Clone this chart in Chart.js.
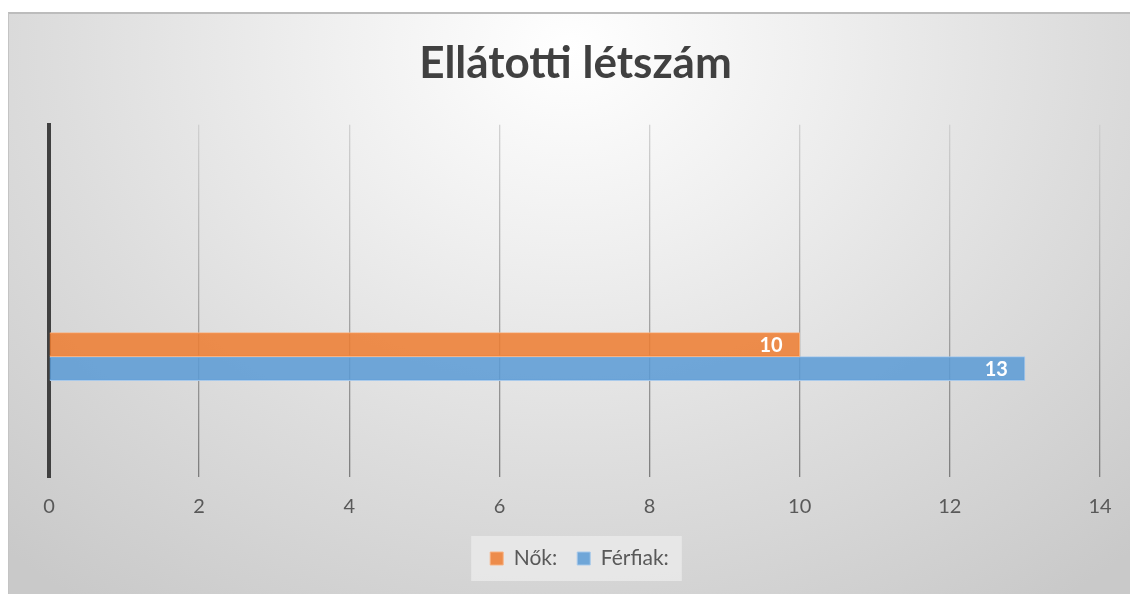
<!DOCTYPE html>
<html lang="hu">
<head>
<meta charset="utf-8">
<title>Ellátotti létszám</title>
<script src="https://cdn.jsdelivr.net/npm/chart.js@4.4.1/dist/chart.umd.min.js"></script>
<style>
  html, body { margin: 0; padding: 0; background: #ffffff; }
  body { width: 1130px; height: 594px; position: relative; overflow: hidden; }
  #frame {
    position: absolute; left: 8px; top: 12px; right: 0; bottom: 0;
    border-top: 2px solid #bcbcbc; border-left: 1px solid #c4c4c4;
    background: radial-gradient(ellipse 74% 118% at 50% 6%, #ffffff 0%, #efefef 30%, #dddddd 62%, #c9c9c9 100%);
  }
  #wrap { position: absolute; left: 0; top: 0; width: 1130px; height: 594px; }
</style>
</head>
<body>
<div id="frame"></div>
<div id="wrap"><canvas id="chart" width="1130" height="594"></canvas></div>
<script>
// Chart content
const chartTitle = 'Ellátotti létszám';
const categories = ['Létszám'];
const seriesNames = ['Nők:', 'Férfiak:'];
const nok = [10];
const ferfiak = [13];
const xTickMin = 0;
const xTickMax = 14;
const xTickStep = 2;

const FONT = 'Lato, "Open Sans", sans-serif';
const TEXT_GREY = '#595959';

// Excel-style gridlines: faint at the top, darker toward the axis labels
function gridGradient(ctx) {
  const area = ctx.chart.chartArea;
  if (!area) return '#bfbfbf';
  const g = ctx.chart.ctx.createLinearGradient(0, area.top, 0, area.bottom);
  g.addColorStop(0, 'rgba(205,205,205,0.9)');
  g.addColorStop(1, 'rgba(125,125,125,1)');
  return g;
}

// Nudge the title and legend so they sit centred on the whole frame
const centreBoxes = {
  id: 'centreBoxes',
  afterLayout(chart) {
    const t = chart.titleBlock;
    if (t) { t.left += 5; t.right += 5; }
    const lg = chart.legend;
    if (lg) { lg.left += 9; lg.right += 9; }
  }
};

// Light panel behind the legend entries
const legendPanel = {
  id: 'legendPanel',
  beforeDraw(chart) {
    const lg = chart.legend;
    if (!lg || !lg.legendHitBoxes || !lg.legendHitBoxes.length) return;
    const boxes = lg.legendHitBoxes;
    const left = Math.min(...boxes.map(b => b.left)) - 19;
    const right = Math.max(...boxes.map(b => b.left + b.width)) + 13;
    const top = Math.min(...boxes.map(b => b.top)) - 12;
    const bottom = Math.max(...boxes.map(b => b.top + b.height)) + 12;
    const c = chart.ctx;
    c.save();
    c.fillStyle = 'rgba(236,236,236,0.75)';
    c.fillRect(left, top, right - left, bottom - top);
    c.restore();
  }
};

// Value labels inside the bar ends
const barValues = {
  id: 'barValues',
  afterDatasetsDraw(chart) {
    const c = chart.ctx;
    c.save();
    c.font = 'bold 20px ' + FONT;
    c.fillStyle = '#ffffff';
    c.textAlign = 'right';
    c.textBaseline = 'middle';
    chart.data.datasets.forEach((ds, di) => {
      const meta = chart.getDatasetMeta(di);
      meta.data.forEach((bar, i) => {
        const v = ds.data[i].x;
        c.fillText(String(v), bar.x - 17, bar.y + 1);
      });
    });
    c.restore();
  }
};

const toPoints = arr => arr.map((v, i) => ({ x: v, y: i }));

new Chart(document.getElementById('chart'), {
  type: 'bar',
  data: {
    labels: categories,
    datasets: [
      {
        label: seriesNames[0],
        data: toPoints(nok),
        backgroundColor: 'rgba(237,125,49,0.86)',
        borderColor: 'rgba(248,178,130,0.95)',
        borderWidth: 1,
        barThickness: 24
      },
      {
        label: seriesNames[1],
        data: toPoints(ferfiak),
        backgroundColor: 'rgba(91,155,213,0.86)',
        borderColor: 'rgba(165,200,235,0.95)',
        borderWidth: 1,
        barThickness: 24
      }
    ]
  },
  options: {
    indexAxis: 'y',
    responsive: false,
    animation: false,
    events: [],
    layout: { padding: { left: 41, right: 30, top: 0, bottom: 15 } },
    scales: {
      x: {
        type: 'linear',
        min: xTickMin,
        max: xTickMax,
        ticks: {
          stepSize: xTickStep,
          color: TEXT_GREY,
          font: { family: FONT, size: 20 },
          padding: 18
        },
        grid: {
          color: gridGradient,
          lineWidth: 1.3,
          drawTicks: false
        },
        border: { display: false },
        afterFit(scale) { scale.height -= 9; }
      },
      y: {
        type: 'linear',
        min: -1,
        max: 1.95,
        ticks: { display: false, stepSize: 0.05 },
        grid: { display: false },
        border: { display: true, color: '#404040', width: 4 }
      }
    },
    plugins: {
      title: {
        display: true,
        text: chartTitle,
        color: '#404040',
        font: { family: FONT, size: 44, weight: 'bold', lineHeight: 1.2 },
        padding: { top: 37, bottom: 35 }
      },
      legend: {
        display: true,
        position: 'bottom',
        labels: {
          color: TEXT_GREY,
          font: { family: FONT, size: 21 },
          boxWidth: 13,
          boxHeight: 13,
          padding: 20,
          generateLabels(chart) {
            return chart.data.datasets.map((ds, i) => ({
              text: ds.label,
              fillStyle: ds.backgroundColor,
              strokeStyle: ds.borderColor,
              lineWidth: 1,
              fontColor: TEXT_GREY,
              datasetIndex: i,
              hidden: false
            }));
          }
        }
      },
      tooltip: { enabled: false }
    }
  },
  plugins: [centreBoxes, legendPanel, barValues]
});
</script>
</body>
</html>
